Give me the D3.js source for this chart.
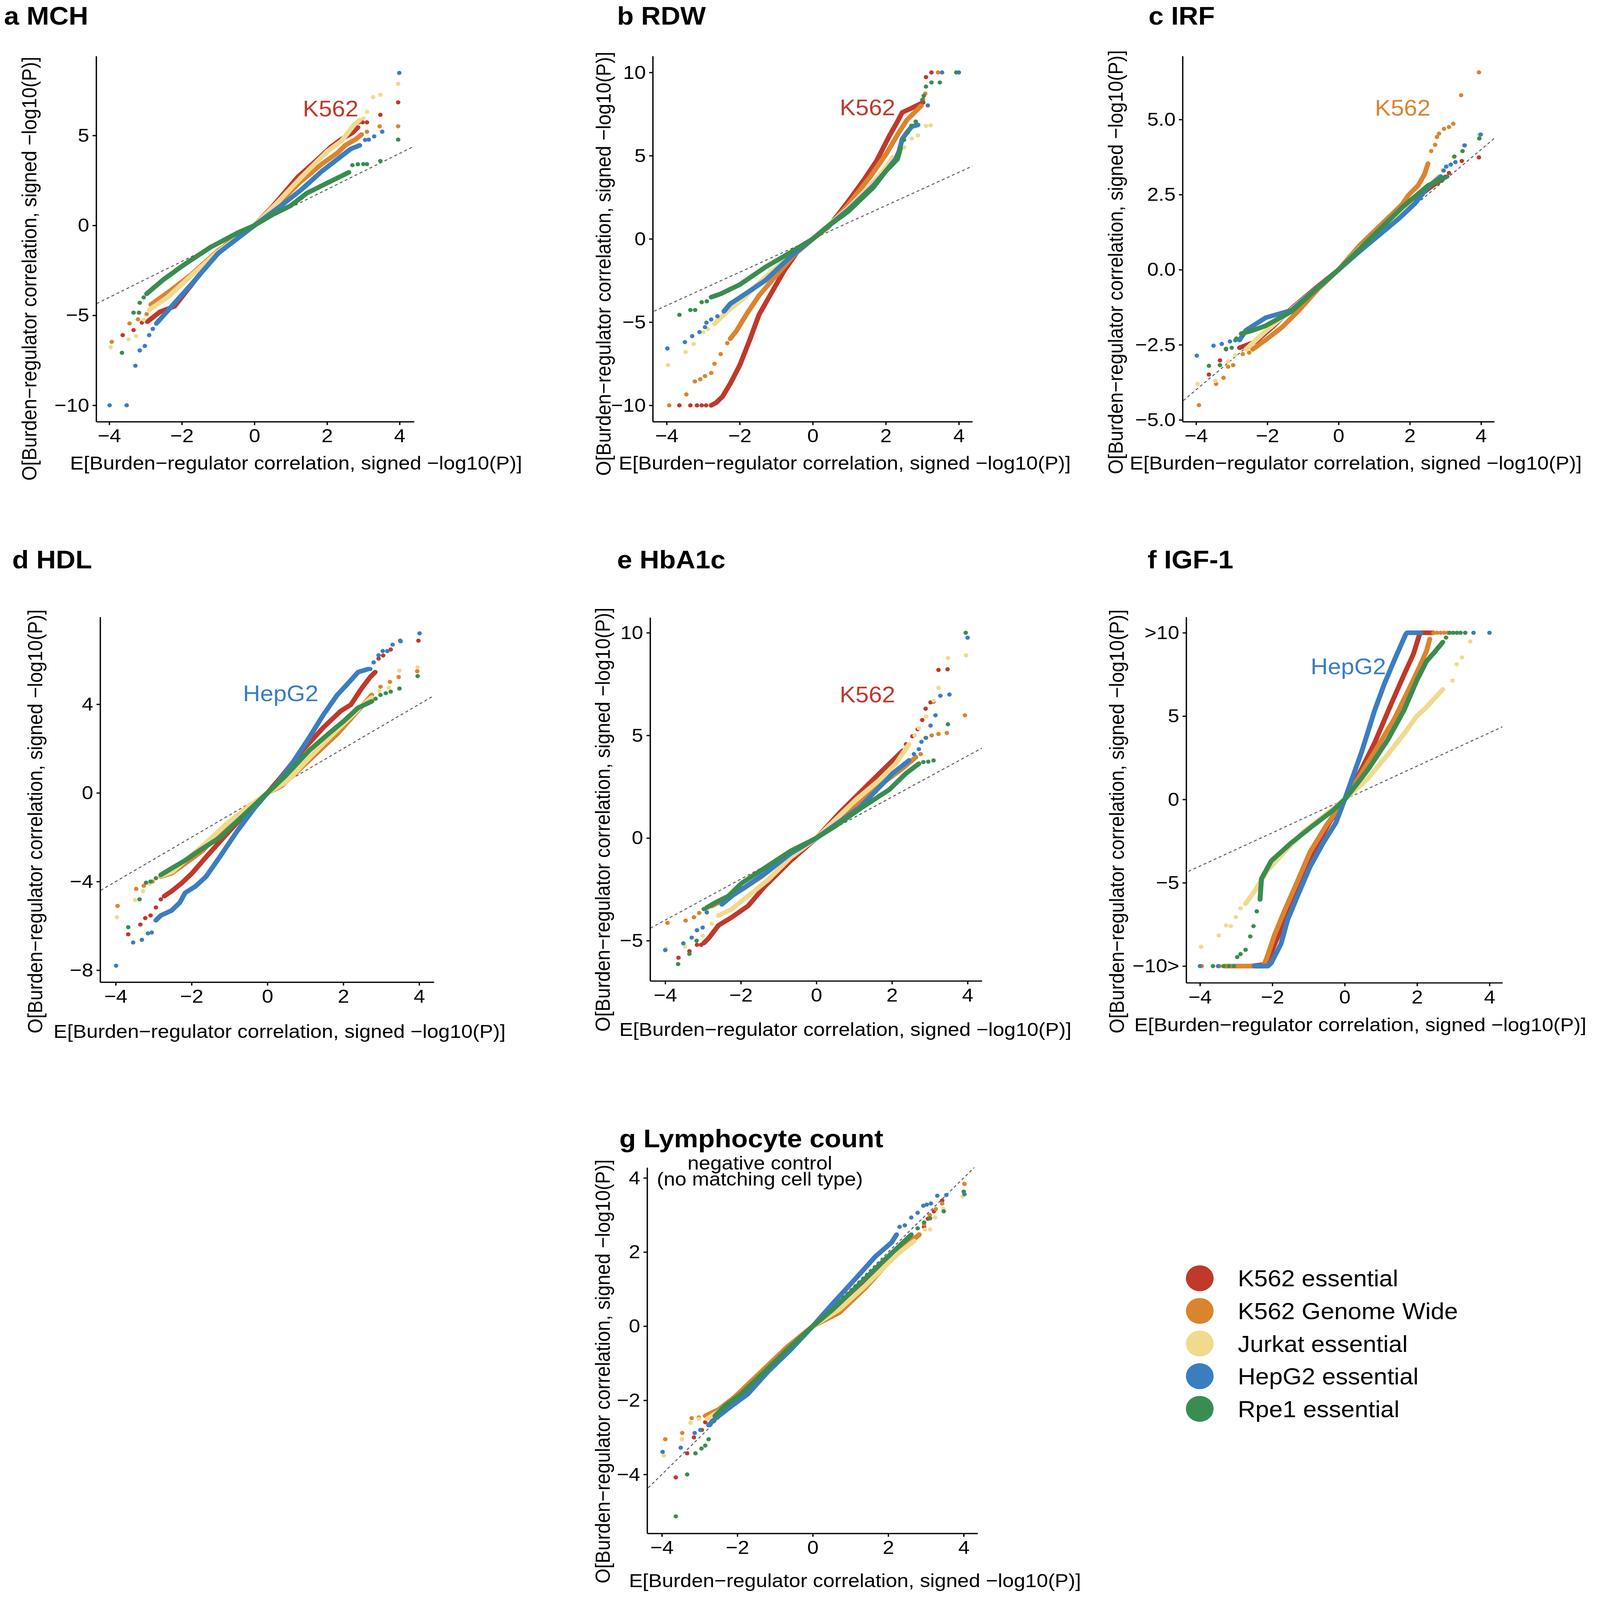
<!DOCTYPE html>
<html>
<head>
<meta charset="utf-8">
<script src="https://cdn.jsdelivr.net/npm/d3@7"></script>
<style>
  html, body { margin: 0; padding: 0; background: #fff; overflow: hidden; }
  svg { display: block; width: 100vw; height: 100vh; }
  text { font-family: "Liberation Sans", Arial, Helvetica, sans-serif; }
</style>
</head>
<body>
<svg id="fig"></svg>
<script>
// series, in legend order
const seriesNames = ["K562 essential", "K562 Genome Wide", "Jurkat essential", "HepG2 essential", "Rpe1 essential"];
const seriesColors = ["#C0392B", "#DB8430", "#F0DA8E", "#3B7EC0", "#3A8D50"];

const xTicks = [-4, -2, 0, 2, 4];
const mchYTicks = [-10, -5, 0, 5];
const rdwYTicks = [-10, -5, 0, 5, 10];
const irfYTicks = [-5, -2.5, 0, 2.5, 5];
const hdlYTicks = [-8, -4, 0, 4];
const hba1cYTicks = [-5, 0, 5, 10];
const igfYTicks = [-10, -5, 0, 5, 10];
const igfYLabels = ["\u221210>", "\u22125", "0", "5", ">10"];
const lymphYTicks = [-4, -2, 0, 2, 4];

// dense part of each QQ curve [expected, observed], one list per series
const mchLine = [
  [[-2.95,-5.35],[-2.6,-4.8],[-2.2,-4.5],[-1.85,-3.6],[-1.4,-2.45],[-0.8,-1.1],[0,0],[0.5,1.05],[1.2,2.7],[1.7,3.6],[2.1,4.35],[2.4,4.8],[2.7,5.15],[2.85,5.45]],
  [[-2.85,-4.4],[-2.3,-3.6],[-1.75,-2.75],[-1.0,-1.4],[0,0],[0.6,1.1],[1.25,2.4],[1.85,3.4],[2.3,4.05],[2.5,4.45],[2.8,4.8],[2.95,5.05]],
  [[-2.9,-4.7],[-2.4,-4.0],[-1.8,-2.9],[-1.0,-1.45],[0,0],[0.6,1.2],[1.3,2.7],[2.0,4.1],[2.4,4.7],[2.75,5.6],[2.9,5.85]],
  [[-2.7,-5.45],[-2.15,-4.2],[-1.75,-3.3],[-1.0,-1.55],[0,0],[0.8,1.2],[1.3,2.0],[1.85,3.0],[2.3,3.7],[2.65,4.25],[2.9,4.45]],
  [[-2.97,-3.8],[-2.5,-3.0],[-1.95,-2.2],[-1.2,-1.2],[-0.45,-0.4],[0,0],[0.5,0.6],[1.0,1.1],[1.45,1.8],[2.0,2.35],[2.4,2.75],[2.6,2.95]]
];
// sparse tail points
const mchDots = [
  [[-3.63,-6.1],[-3.33,-5.82],[-3.1,-5.4],[2.88,5.73],[2.98,5.73],[3.1,5.73],[3.47,6.15],[3.96,6.84]],
  [[-3.93,-6.47],[-3.44,-5.45],[-3.21,-5.22],[-2.97,-4.93],[3.1,5.21],[3.45,5.51],[3.96,5.51]],
  [[-3.96,-6.77],[-3.47,-6.33],[-3.26,-6.15],[-3.05,-5.25],[3.0,5.95],[3.1,6.31],[3.27,7.13],[3.47,7.26],[3.96,7.87]],
  [[-3.99,-10],[-3.52,-10],[-3.28,-7.8],[-3.16,-6.95],[-3.02,-6.7],[-2.9,-6.1],[-2.8,-5.75],[3.05,4.75],[3.15,4.77],[3.3,4.95],[3.52,5.21],[3.99,8.48]],
  [[-3.65,-7.08],[-3.33,-4.85],[-3.18,-4.85],[-3.16,-4.3],[-3.05,-4.0],[2.7,3.35],[2.85,3.4],[3.0,3.41],[3.1,3.41],[3.47,3.58],[3.96,4.77]]
];

const rdwLine = [
  [[-2.78,-10],[-2.65,-9.85],[-2.47,-9.47],[-2.26,-8.7],[-2.0,-7.6],[-1.73,-6.1],[-1.47,-4.55],[-1.12,-3.2],[-0.78,-1.9],[-0.43,-0.8],[0,0],[0.44,0.75],[0.97,2.25],[1.4,3.55],[1.75,4.7],[2.1,6.2],[2.32,7.05],[2.45,7.6],[2.7,7.85],[3.02,8.2]],
  [[-2.26,-6.0],[-2.08,-5.5],[-1.82,-4.55],[-1.47,-3.4],[-1.04,-2.3],[-0.51,-0.95],[0,0],[0.44,0.75],[0.97,2.05],[1.58,3.75],[2.01,5.1],[2.36,6.4],[2.58,7.15],[2.97,8.0]],
  [[-2.69,-5.1],[-2.34,-4.35],[-1.91,-3.6],[-1.3,-2.3],[-0.6,-0.95],[0,0],[0.97,1.85],[1.66,3.4],[2.01,4.3],[2.19,4.9]],
  [[-2.43,-4.35],[-2.26,-3.9],[-1.91,-3.4],[-1.3,-2.5],[-0.6,-1.05],[0,0],[0.97,1.75],[1.66,3.2],[2.05,4.2],[2.27,4.8],[2.36,5.25],[2.45,6.0],[2.58,6.4],[2.71,6.75],[2.88,6.85]],
  [[-2.78,-3.5],[-2.52,-3.3],[-2.0,-2.75],[-1.3,-1.7],[-0.6,-0.8],[0,0],[0.44,0.8],[0.97,1.65],[1.66,3.1],[2.01,4.1],[2.19,4.5],[2.32,4.8],[2.4,5.45]]
];
const rdwDots = [
  [[-3.65,-10],[-3.35,-10],[-3.17,-10],[-3.04,-10],[-2.92,-10],[3.1,9.72],[3.25,10]],
  [[-3.93,-10],[-3.46,-9.34],[-3.23,-8.56],[-3.08,-8.43],[-2.95,-8.24],[-2.78,-8.05],[-2.69,-7.5],[-2.52,-6.92],[-2.34,-6.26],[3.02,8.39],[3.08,8.73],[3.43,10]],
  [[-3.96,-7.58],[-3.48,-6.79],[-3.26,-6.31],[-3.0,-5.6],[-2.87,-5.41],[2.36,5.27],[2.5,5.5],[2.71,6.03],[2.88,6.22],[3.1,6.79],[3.23,6.82]],
  [[-3.98,-6.58],[-3.5,-6.2],[-3.3,-5.84],[-3.1,-5.6],[-2.95,-5.3],[-2.91,-5.03],[-2.78,-4.84],[-2.61,-4.65],[3.15,8.02],[3.54,10],[4.0,10]],
  [[-3.65,-4.56],[-3.35,-4.27],[-3.22,-4.27],[-3.04,-3.8],[-2.9,-3.75],[2.5,5.95],[2.6,6.4],[2.7,6.8],[2.82,7.05],[3.0,8.35],[3.04,8.6],[3.1,9.15],[3.25,9.4],[3.48,9.4],[3.93,10]]
];

const irfLine = [
  [[-2.78,-2.6],[-2.32,-2.39],[-1.87,-1.92],[-1.32,-1.29],[-0.59,-0.56],[0,0],[0.59,0.7],[1.69,1.75],[2.23,2.43],[2.64,2.8],[2.92,3.01]],
  [[-2.41,-2.65],[-2.05,-2.34],[-1.59,-1.92],[-1.14,-1.39],[-0.59,-0.66],[0,0],[0.59,0.81],[1.23,1.54],[1.78,2.17],[1.96,2.48],[2.23,2.8],[2.41,3.17],[2.51,3.53]],
  [[-2.6,-2.65],[-2.1,-2.1],[-1.4,-1.4],[-0.6,-0.6],[0,0],[0.6,0.72],[1.7,1.8],[2.3,2.5],[2.82,3.11]],
  [[-2.78,-2.34],[-2.6,-2.02],[-2.05,-1.6],[-1.32,-1.35],[-0.6,-0.6],[0,0],[0.6,0.62],[1.69,1.7],[2.14,2.2],[2.51,2.75],[2.87,3.1]],
  [[-2.73,-2.13],[-2.41,-2.02],[-2.05,-1.87],[-1.32,-1.39],[-0.59,-0.61],[0,0],[0.6,0.7],[1.78,2.07],[2.51,2.8],[2.96,3.06]]
];
const irfDots = [
  [[-3.64,-3.49],[-3.33,-3.02],[-3.16,-2.65],[3.0,3.1],[3.1,3.22],[3.46,3.62],[3.94,3.74]],
  [[-3.92,-4.51],[-3.44,-3.8],[-3.23,-3.6],[-3.1,-3.23],[-2.96,-3.18],[-2.69,-2.81],[-2.51,-2.76],[2.6,3.95],[2.71,4.16],[2.76,4.42],[2.82,4.53],[2.96,4.69],[3.1,4.75],[3.22,4.86],[3.44,5.81],[3.94,6.57]],
  [[-3.96,-3.8],[-3.46,-3.7],[-3.1,-3.05],[-2.9,-2.85],[2.92,3.32],[3.05,3.45],[3.23,3.74],[3.51,4.14],[3.94,4.5]],
  [[-3.98,-2.86],[-3.51,-2.53],[-3.28,-2.47],[-3.05,-2.39],[-2.9,-2.35],[2.95,3.3],[3.02,3.43],[3.15,3.5],[3.28,3.58],[3.54,4.14],[3.99,4.5]],
  [[-3.64,-3.2],[-3.33,-3.18],[-3.16,-2.63],[-3.0,-2.6],[-2.87,-2.29],[3.05,3.1],[3.25,3.77],[3.48,3.95],[3.95,4.37]]
];

const hdlLine = [
  [[-2.72,-4.66],[-2.53,-4.44],[-2.26,-4.07],[-1.99,-3.63],[-1.62,-2.9],[-1.08,-1.87],[-0.53,-0.85],[0,0],[0.38,0.76],[0.93,1.93],[1.48,2.96],[1.93,3.69],[2.2,3.98],[2.48,4.71],[2.71,5.23],[2.84,5.45]],
  [[-2.81,-3.78],[-2.53,-3.63],[-2.17,-3.19],[-1.71,-2.61],[-1.08,-1.43],[-0.53,-0.7],[0,0],[0.38,0.32],[1.11,1.49],[1.84,2.66],[2.3,3.54],[2.75,4.42]],
  [[-2.8,-3.75],[-2.5,-3.55],[-2.17,-3.05],[-1.71,-2.4],[-1.08,-1.4],[-0.53,-0.65],[0,0],[0.5,0.5],[1.11,1.6],[1.84,2.85],[2.3,3.6],[2.43,3.84],[2.75,4.3]],
  [[-2.94,-5.75],[-2.81,-5.53],[-2.53,-5.31],[-2.31,-4.95],[-2.17,-4.51],[-1.9,-4.22],[-1.62,-3.78],[-1.26,-2.9],[-0.8,-1.73],[-0.35,-0.7],[0,0],[0.2,0.32],[0.66,1.35],[1.11,2.52],[1.48,3.54],[1.84,4.42],[2.16,5.01],[2.39,5.45],[2.66,5.59]],
  [[-2.81,-3.7],[-2.53,-3.41],[-2.17,-3.05],[-1.8,-2.61],[-1.26,-2.02],[-0.53,-0.85],[0,0],[0.47,0.76],[1.11,1.93],[1.66,2.74],[2.02,3.25],[2.39,3.84],[2.75,4.13]]
];
const hdlDots = [
  [[-3.67,-6.38],[-3.35,-5.94],[-3.22,-5.65],[-3.08,-5.53],[-2.94,-5.17],[-2.81,-4.8],[2.93,6.06],[3.05,6.2],[3.25,6.47],[3.5,6.87],[3.98,6.87]],
  [[-3.95,-5.1],[-3.46,-4.33],[-3.26,-4.19],[-3.03,-4.0],[2.98,4.79],[3.23,5.01],[3.46,5.23],[3.95,5.49]],
  [[-3.97,-5.61],[-3.49,-4.83],[-3.28,-4.44],[-3.1,-4.1],[2.95,4.6],[3.2,4.75],[3.48,5.52],[3.96,5.67]],
  [[-3.99,-7.8],[-3.54,-6.75],[-3.31,-6.63],[-3.15,-6.34],[-3.05,-6.3],[2.71,5.59],[2.8,5.89],[2.93,6.21],[3.04,6.4],[3.16,6.4],[3.3,6.69],[3.51,6.84],[4.01,7.2]],
  [[-3.67,-6.06],[-3.37,-4.8],[-3.2,-4.05],[-3.08,-4.0],[-2.94,-3.85],[2.85,4.25],[2.98,4.42],[3.12,4.5],[3.25,4.57],[3.48,4.71],[3.96,5.27]]
];

const hba1cLine = [
  [[-2.98,-5.12],[-2.85,-4.88],[-2.59,-4.25],[-2.24,-3.86],[-1.81,-3.31],[-1.37,-2.36],[-0.68,-1.1],[0,0],[0.63,1.26],[1.32,2.52],[1.84,3.46],[2.28,4.25]],
  [[-2.77,-3.31],[-2.42,-2.99],[-1.98,-2.52],[-1.46,-1.89],[-0.77,-0.87],[0,0],[1.06,1.57],[1.76,2.68],[2.28,3.39],[2.63,3.94]],
  [[-2.59,-3.78],[-2.24,-3.46],[-1.81,-2.83],[-1.29,-2.05],[-0.68,-0.94],[0,0],[1.06,1.89],[1.67,2.83],[2.1,3.62],[2.45,4.57]],
  [[-2.5,-3.23],[-2.24,-2.83],[-1.9,-2.4],[-1.3,-1.65],[-0.68,-0.75],[0,0],[1.15,1.5],[2.02,3.15],[2.45,3.78]],
  [[-2.9,-3.39],[-2.68,-3.15],[-2.33,-2.83],[-1.98,-2.2],[-1.46,-1.57],[-0.68,-0.63],[0,0],[0.54,0.63],[1.15,1.42],[1.93,2.36],[2.37,3.15],[2.71,3.62]]
];
const hba1cDots = [
  [[-3.65,-5.83],[-3.36,-5.51],[-3.16,-5.2],[-3.05,-5.2],[2.37,4.57],[2.54,4.96],[2.68,5.3],[2.8,5.75],[2.89,6.3],[3.02,6.61],[3.1,6.65],[3.23,8.19],[3.47,8.22]],
  [[-3.94,-4.13],[-3.46,-4.02],[-3.24,-3.86],[-3.1,-3.65],[-2.94,-3.46],[2.76,4.09],[2.89,4.88],[3.05,5.0],[3.23,5.07],[3.45,5.12],[3.93,5.98]],
  [[-3.98,-5.39],[-3.48,-5.28],[-3.01,-4.76],[-2.77,-4.17],[2.6,5.0],[2.71,5.35],[2.9,5.91],[3.1,6.69],[3.23,7.32],[3.48,8.77],[3.96,8.9]],
  [[-4.0,-5.46],[-3.52,-5.13],[-3.3,-4.85],[-3.16,-4.49],[-3.01,-4.36],[-2.9,-3.62],[2.58,4.09],[2.71,4.33],[2.78,4.69],[2.9,4.88],[3.02,5.48],[3.15,5.98],[3.28,6.93],[3.52,6.99],[4.0,9.76]],
  [[-3.66,-6.14],[-3.36,-5.64],[-3.17,-5.0],[-2.98,-3.46],[2.83,3.7],[2.96,3.72],[3.1,3.78],[3.48,5.54],[3.95,10]]
];

const igfLine = [
  [[-2.6,-10],[-2.21,-9.9],[-2.03,-9.19],[-1.76,-7.77],[-1.49,-6.18],[-1.13,-4.4],[-0.78,-2.8],[-0.42,-1.38],[0,0],[0.38,1.46],[0.83,3.41],[1.28,5.71],[1.64,7.49],[1.9,8.73],[2.04,9.71],[2.08,10],[2.45,10]],
  [[-3.32,-10],[-2.25,-10],[-2.16,-9.55],[-1.94,-8.13],[-1.67,-6.71],[-1.31,-4.93],[-0.96,-3.16],[-0.51,-1.56],[0,0],[0.38,1.28],[0.83,2.87],[1.37,4.83],[1.81,6.78],[2.08,8.02],[2.26,8.91],[2.35,9.62]],
  [[-2.74,-6.26],[-2.48,-5.47],[-2.12,-4.22],[-1.67,-3.16],[-1.13,-1.92],[-0.6,-1.03],[0,0],[0.65,1.28],[1.19,2.7],[1.64,3.94],[1.99,5.0],[2.26,5.54],[2.71,6.6]],
  [[-2.5,-10],[-2.12,-10],[-2.03,-9.81],[-1.76,-8.66],[-1.58,-7.24],[-1.31,-5.82],[-0.96,-4.05],[-0.6,-2.63],[-0.24,-1.38],[0,0],[0.21,1.28],[0.47,2.87],[0.83,5.36],[1.1,6.96],[1.41,8.55],[1.68,9.88],[1.72,10],[2.1,10]],
  [[-2.34,-6.0],[-2.3,-4.76],[-2.03,-3.69],[-1.49,-2.63],[-0.87,-1.56],[-0.33,-0.67],[0,0],[0.21,0.57],[0.65,1.81],[1.19,3.58],[1.64,5.36],[1.99,7.13],[2.26,8.29],[2.44,8.73],[2.71,9.44]]
];
const igfDots = [
  [],
  [[-3.95,-10],[-3.46,-10],[2.45,10],[2.55,10],[2.65,10],[2.75,10],[2.85,10]],
  [[-3.97,-8.84],[-3.48,-8.16],[-3.28,-7.56],[-3.15,-7.6],[-3.01,-7.06],[-2.88,-6.53],[2.98,7.13],[3.09,8.11],[3.24,8.52],[3.47,9.48]],
  [[-4.0,-10],[-3.5,-10],[3.56,10],[4.0,10]],
  [[-3.64,-10],[-3.35,-10],[-3.2,-10],[-3.06,-10],[-2.97,-9.46],[-2.88,-9.28],[-2.74,-9.02],[-2.61,-8.22],[-2.52,-7.6],[-2.43,-6.71],[2.8,9.71],[2.9,10],[3.0,10],[3.1,10],[3.2,10],[3.33,10]]
];

const lymphLine = [
  [[-2.68,-2.5],[-2.42,-2.29],[-1.9,-1.83],[-1.29,-1.24],[-0.6,-0.56],[0,0],[0.7,0.45],[1.39,1.12],[2.0,1.79],[2.61,2.3],[2.82,2.47]],
  [[-2.85,-2.42],[-2.5,-2.25],[-2.07,-1.91],[-1.38,-1.24],[-0.68,-0.56],[0,0],[0.7,0.36],[1.4,1.04],[1.92,1.63],[2.35,2.05],[2.82,2.47]],
  [[-2.8,-2.5],[-2.4,-2.25],[-1.9,-1.85],[-1.3,-1.25],[-0.6,-0.58],[0,0],[0.7,0.45],[1.4,1.1],[2.0,1.7],[2.26,1.96],[2.69,2.3]],
  [[-2.76,-2.67],[-2.59,-2.5],[-2.16,-2.16],[-1.72,-1.83],[-1.2,-1.24],[-0.6,-0.65],[0,0],[0.53,0.61],[1.14,1.29],[1.66,1.88],[2.09,2.26],[2.22,2.47]],
  [[-2.59,-2.42],[-2.33,-2.16],[-1.9,-1.83],[-1.29,-1.24],[-0.6,-0.56],[0,0],[0.53,0.45],[1.14,1.04],[1.74,1.63],[2.26,2.13],[2.61,2.47]]
];
const lymphDots = [
  [[-3.63,-4.08],[-3.33,-3.43],[-3.15,-3.0],[-2.94,-2.8],[-2.85,-2.59],[2.95,2.68],[3.05,2.9],[3.21,3.1],[3.43,3.39]],
  [[-3.91,-3.05],[-3.46,-2.88],[-3.21,-2.48],[-3.02,-2.46],[2.95,2.75],[3.1,3.0],[3.26,3.16],[3.43,3.31],[4.02,3.84]],
  [[-3.95,-3.49],[-3.47,-3.05],[-3.24,-2.61],[-3.02,-2.5],[2.97,2.61],[3.11,2.61],[3.24,2.93],[3.46,3.16],[3.97,3.5]],
  [[-3.98,-3.39],[-3.5,-3.28],[-3.13,-2.88],[-2.98,-2.8],[2.3,2.68],[2.44,2.72],[2.61,2.93],[2.78,3.06],[2.93,3.25],[3.02,3.28],[3.13,3.31],[3.3,3.52],[3.54,3.54],[4.02,3.56]],
  [[-3.63,-5.13],[-3.33,-4.0],[-3.11,-3.43],[-2.95,-3.3],[-2.85,-3.22],[-2.76,-3.05],[2.78,2.64],[2.95,2.8],[3.11,2.91],[3.47,3.1],[4.0,3.63]]
];

// layout: pixel boxes [left, right, top, bottom], axis limits and text anchors
const panels = [
  { title: "a MCH", line: mchLine, dots: mchDots, yTicks: mchYTicks,
    box: [291, 1253, 182, 1367], xDom: [-4.36, 4.40], yDom: [-10.91, 9.41],
    titleAt: [12, 80], xTitleAt: [212, 1522], yTitleAt: [110, 871],
    label: "K562", labelColor: 0, labelAt: [2.1, 6.5] },
  { title: "b RDW", line: rdwLine, dots: rdwDots, yTicks: rdwYTicks,
    box: [1975, 2942, 182, 1367], xDom: [-4.38, 4.37], yDom: [-10.98, 10.98],
    titleAt: [1867, 80], xTitleAt: [1872, 1522], yTitleAt: [1847, 855],
    label: "K562", labelColor: 0, labelAt: [1.5, 7.9] },
  { title: "c IRF", line: irfLine, dots: irfDots, yTicks: irfYTicks, yFormat: d3.format(".1f"),
    box: [3578, 4521, 182, 1367], xDom: [-4.38, 4.37], yDom: [-5.06, 7.11],
    titleAt: [3475, 80], xTitleAt: [3418, 1522], yTitleAt: [3397, 850],
    label: "K562", labelColor: 1, labelAt: [1.8, 5.4] },
  { title: "d HDL", line: hdlLine, dots: hdlDots, yTicks: hdlYTicks,
    box: [303, 1313, 2000, 3184], xDom: [-4.41, 4.39], yDom: [-8.54, 7.94],
    titleAt: [37, 1843], xTitleAt: [162, 3365], yTitleAt: [128, 2663],
    label: "HepG2", labelColor: 3, labelAt: [0.35, 4.5] },
  { title: "e HbA1c", line: hba1cLine, dots: hba1cDots, yTicks: hba1cYTicks,
    box: [1967, 2971, 2002, 3180], xDom: [-4.40, 4.38], yDom: [-6.96, 10.74],
    titleAt: [1867, 1842], xTitleAt: [1874, 3358], yTitleAt: [1845, 2657],
    label: "K562", labelColor: 0, labelAt: [1.35, 7.0] },
  { title: "f IGF-1", line: igfLine, dots: igfDots, yTicks: igfYTicks, yLabels: igfYLabels,
    box: [3589, 4546, 2000, 3186], xDom: [-4.38, 4.36], yDom: [-11.0, 10.95],
    titleAt: [3472, 1842], xTitleAt: [3432, 3343], yTitleAt: [3400, 2663],
    label: "HepG2", labelColor: 3, labelAt: [0.1, 8.0] },
  { title: "g Lymphocyte count", line: lymphLine, dots: lymphDots, yTicks: lymphYTicks,
    box: [1958, 2958, 3785, 4971], xDom: [-4.39, 4.37], yDom: [-5.59, 4.28],
    titleAt: [1874, 3719], xTitleAt: [1903, 5145], yTitleAt: [1845, 4446],
    subtitle: ["negative control", "(no matching cell type)"], subtitleAt: [2299, 3792] }
];

const W = 4841, H = 5187;
// the drawing is laid out on the reference's 4841 x 5187 grid and stretched to the window
const svg = d3.select("#fig")
  .attr("viewBox", `0 0 ${W} ${H}`)
  .attr("preserveAspectRatio", "none");
svg.append("rect").attr("width", W).attr("height", H).attr("fill", "#fff");
const defs = svg.append("defs");

const xTitleText = "E[Burden\u2212regulator correlation, signed \u2212log10(P)]";
const yTitleText = "O[Burden\u2212regulator correlation, signed \u2212log10(P)]";
const tickFont = 62;

panels.forEach((p, i) => {
  const [l, r, t, b] = p.box;
  const x = d3.scaleLinear().domain(p.xDom).range([l, r]);
  const y = d3.scaleLinear().domain(p.yDom).range([b, t]);
  const g = svg.append("g").attr("class", "panel");

  defs.append("clipPath").attr("id", "clip" + i)
    .append("rect").attr("x", l).attr("y", t).attr("width", r - l).attr("height", b - t);
  const plot = g.append("g").attr("clip-path", `url(#clip${i})`);

  // identity line
  const lo = Math.min(p.xDom[0], p.yDom[0]), hi = Math.max(p.xDom[1], p.yDom[1]);
  plot.append("line")
    .attr("x1", x(lo)).attr("y1", y(lo)).attr("x2", x(hi)).attr("y2", y(hi))
    .attr("stroke", "#555").attr("stroke-width", 3).attr("stroke-dasharray", "9,8");

  const line = d3.line().x(d => x(d[0])).y(d => y(d[1]));
  seriesNames.forEach((s, k) => {
    const sg = plot.append("g").attr("class", "series");
    sg.append("path").datum(p.line[k])
      .attr("d", line)
      .attr("fill", "none")
      .attr("stroke", seriesColors[k])
      .attr("stroke-width", 15)
      .attr("stroke-linecap", "round")
      .attr("stroke-linejoin", "round");
    sg.selectAll("circle").data(p.dots[k]).join("circle")
      .attr("cx", d => x(d[0])).attr("cy", d => y(d[1]))
      .attr("r", 6.8).attr("fill", seriesColors[k]);
  });

  // axes
  const xAxis = d3.axisBottom(x).tickValues(xTicks).tickSize(11).tickSizeOuter(0).tickPadding(12);
  const yAxis = d3.axisLeft(y).tickValues(p.yTicks).tickSize(11).tickSizeOuter(0).tickPadding(10);
  if (p.yLabels) yAxis.tickFormat((d, j) => p.yLabels[j]);
  else if (p.yFormat) yAxis.tickFormat(p.yFormat);
  else yAxis.tickFormat(d3.format("d"));

  const gx = g.append("g").attr("transform", `translate(0,${b})`).call(xAxis);
  const gy = g.append("g").attr("transform", `translate(${l},0)`).call(yAxis);
  [gx, gy].forEach(a => {
    a.select(".domain").attr("stroke", "#000").attr("stroke-width", 4);
    a.selectAll(".tick line").attr("stroke", "#000").attr("stroke-width", 4);
    a.selectAll(".tick text").attr("fill", "#000").attr("font-size", tickFont)
      .attr("font-family", "Liberation Sans, Arial, Helvetica, sans-serif");
  });

  // titles
  g.append("text").attr("x", p.titleAt[0]).attr("y", p.titleAt[1])
    .attr("font-size", 82).attr("font-weight", "bold").text(p.title);
  g.append("text").attr("x", p.xTitleAt[0]).attr("y", p.xTitleAt[1])
    .attr("font-size", 62).text(xTitleText);
  g.append("text")
    .attr("transform", `translate(${p.yTitleAt[0]},${p.yTitleAt[1]}) rotate(-90)`)
    .attr("text-anchor", "middle").attr("font-size", 62).text(yTitleText);

  if (p.label) {
    g.append("text").attr("x", x(p.labelAt[0])).attr("y", y(p.labelAt[1]))
      .attr("dy", "0.36em").attr("text-anchor", "middle")
      .attr("font-size", 72).attr("fill", seriesColors[p.labelColor]).text(p.label);
  }
  if (p.subtitle) {
    p.subtitle.forEach((s, j) => {
      g.append("text").attr("x", p.subtitleAt[0]).attr("y", p.subtitleAt[1] + j * 51)
        .attr("text-anchor", "middle").attr("font-size", 62).text(s);
    });
  }
});

// legend
const legend = svg.append("g").attr("transform", "translate(3630,4144)");
const row = legend.selectAll("g").data(seriesNames).join("g")
  .attr("transform", (d, k) => `translate(0,${k * 105.8})`);
row.append("circle").attr("r", 42).attr("fill", (d, k) => seriesColors[k]);
row.append("text").attr("x", 115).attr("dy", "0.36em").attr("font-size", 74).text(d => d);
</script>
</body>
</html>
